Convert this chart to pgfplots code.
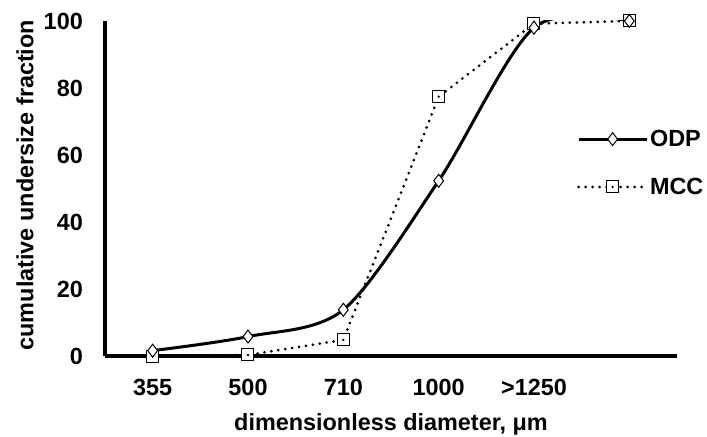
\documentclass[border=0pt]{standalone}
\usepackage{fontspec}
\setmainfont{Liberation Sans}
\usepackage{pgfplots}
\pgfplotsset{compat=1.18}

\pgfdeclareplotmark{sqdot}{%
  \pgfpathrectangle{\pgfqpoint{-\pgfplotmarksize}{-\pgfplotmarksize}}{\pgfqpoint{2\pgfplotmarksize}{2\pgfplotmarksize}}%
  \pgfusepathqfillstroke
  \pgfscope\pgfsetfillcolor{black}%
  \pgfpathcircle{\pgfpointorigin}{1.3bp}%
  \pgfusepathqfill
  \endpgfscope
}

\newcommand{\lblfont}{\bfseries\fontsize{23.5}{27}\selectfont}

\begin{document}
\begin{tikzpicture}
\path[use as bounding box] (-105bp,-81bp) rectangle (602bp,356bp);
\begin{axis}[
  at={(0,0)}, anchor=south west, scale only axis,
  width=572bp, height=335bp,
  xmin=0, xmax=6, ymin=0, ymax=100,
  clip=true, clip marker paths=false,
  axis lines=left,
  axis line style={line width=4.5bp, -},
  xtick={0.5,1.5,2.5,3.5,4.5},
  xticklabels={355,500,710,1000,>1250},
  ytick={0,20,40,60,80,100},
  major tick length=0pt,
  tick style={draw=none},
  /pgf/number format/assume math mode=true,
  ticklabel style={font=\lblfont},
  xticklabel style={anchor=north, yshift=-20bp},
  yticklabel style={anchor=east, inner xsep=22bp},
  xlabel={dimensionless diameter, μm},
  ylabel={cumulative undersize fraction},
  every axis x label/.style={at={(axis description cs:0.5,-0.203)}, anchor=center, font=\lblfont},
  every axis y label/.style={at={(axis description cs:-0.14,0.51)}, rotate=90, anchor=center, font=\lblfont},
  legend image code/.code={\draw[mark repeat=2,mark phase=2,#1] plot coordinates {(0bp,0bp) (34bp,0bp) (68bp,0bp)};},
  reverse legend,
  legend cell align=left,
  legend style={draw=none, fill=none, at={(axis description cs:0.825,0.576)}, anchor=west,
    font=\lblfont, row sep=26bp, inner sep=0pt},
]
\addplot[black, line width=3bp, dash pattern=on 0pt off 7bp, line cap=round,
  mark=sqdot, mark size=6bp, mark options={solid, fill=white, line width=1bp}]
  coordinates {(0.5,0) (1.5,0.3) (2.5,4.8) (3.5,77.4) (4.5,99.2) (5.5,100)};
\addlegendentry{MCC}
\addplot[black, line width=3bp, smooth, tension=0.5,
  mark=diamond*, mark size=6.5bp, mark options={fill=white, line width=1bp}]
  coordinates {(0.5,1.6) (1.5,5.8) (2.5,13.8) (3.5,52.3) (4.5,98) (5.5,100)};
\addlegendentry{ODP}
\end{axis}
\end{tikzpicture}
\end{document}
